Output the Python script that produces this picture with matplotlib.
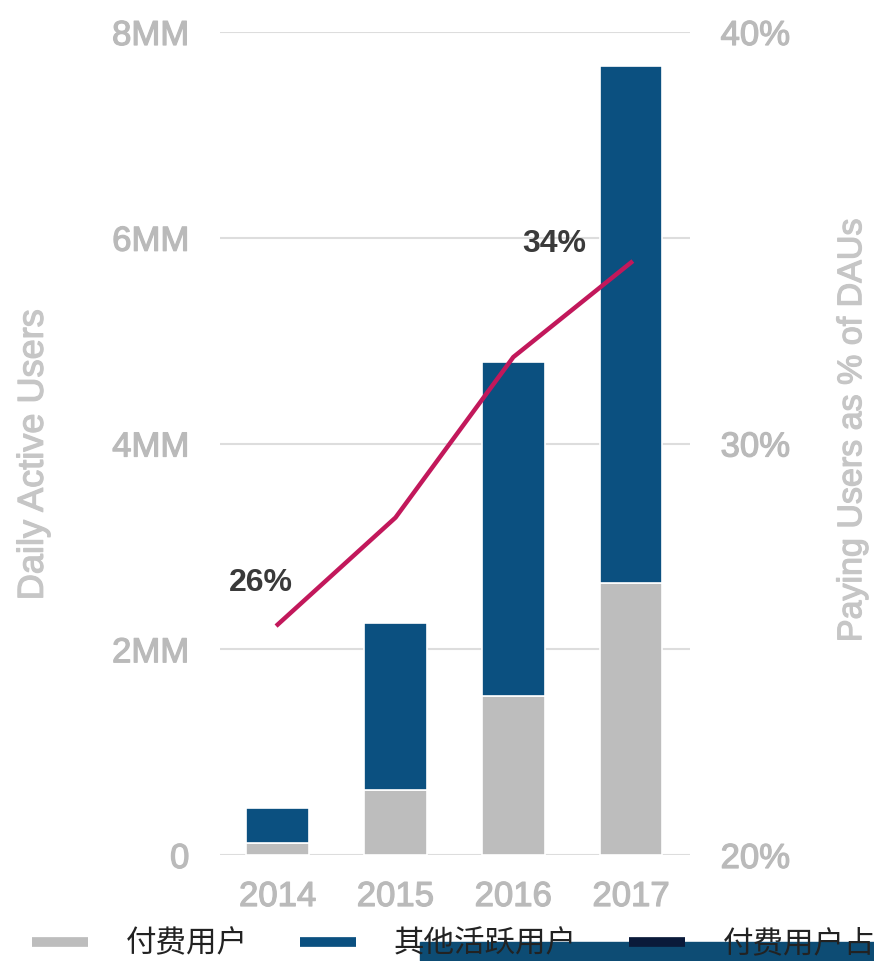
import matplotlib
matplotlib.use("Agg")
import matplotlib.pyplot as plt
import matplotlib.patheffects as pe
from matplotlib.lines import Line2D
from matplotlib.patches import Rectangle
import numpy as np

plt.rcParams["font.family"] = ["Liberation Sans", "Noto Sans CJK SC"]

# data
years = ["2014", "2015", "2016", "2017"]
paying_users = [0.12, 0.63, 1.55, 2.64]     # MM
total_dau = [0.46, 2.26, 4.79, 7.67]        # MM
paying_pct = [25.6, 28.2, 32.1, 34.4]       # %
left_ticks = [0, 2, 4, 6, 8]
left_labels = ["0", "2MM", "4MM", "6MM", "8MM"]
right_ticks = [20, 30, 40]
right_labels = ["20%", "30%", "40%"]
legend_labels = ["付费用户", "其他活跃用户", "付费用户占比"]

GRAY = "#bdbdbd"
BLUE = "#0b5080"
RED = "#c2185b"
TICK = "#bababa"
LABEL = "#c6c6c6"

other_users = [t - p for t, p in zip(total_dau, paying_users)]
x = np.arange(len(years))

# slightly heavier than regular, like the source font
thick = [pe.withStroke(linewidth=0.9, foreground=TICK)]
thick_lab = [pe.withStroke(linewidth=0.9, foreground=LABEL)]

fig = plt.figure(figsize=(8.74, 9.61), dpi=100)
ax = fig.add_axes([0.2517, 0.1103, 0.5378, 0.8564])

ax.bar(x, paying_users, width=0.53, color=GRAY, edgecolor="white", linewidth=1.2, zorder=3)
ax.bar(x, other_users, bottom=paying_users, width=0.53, color=BLUE,
       edgecolor="white", linewidth=1.2, zorder=3)

ax.set_xlim(-0.49, 3.5)
ax.set_ylim(0, 8)
ax.set_yticks(left_ticks)
ax.set_yticklabels(left_labels)
ax.set_xticks(x)
ax.set_xticklabels(years)
ax.grid(axis="y", color="#dddddd", linewidth=1.5, zorder=0)
ax.tick_params(axis="y", length=0, pad=22, labelsize=25, labelcolor=TICK)
ax.tick_params(axis="x", length=0, pad=18, labelsize=25, labelcolor=TICK)
for s in ax.spines.values():
    s.set_visible(False)
ax.set_ylabel("Daily Active Users", fontsize=26, color=LABEL, path_effects=thick_lab)
ax.yaxis.set_label_coords(-0.36, 0.486)

ax2 = ax.twinx()
ax2.plot(x, paying_pct, color=RED, linewidth=3.2, zorder=4)
ax2.set_ylim(20, 40)
ax2.set_yticks(right_ticks)
ax2.set_yticklabels(right_labels)
ax2.tick_params(axis="y", length=0, pad=22, labelsize=25, labelcolor=TICK)
for s in ax2.spines.values():
    s.set_visible(False)
ax2.set_ylabel("Paying Users as % of DAUs", fontsize=24.5, color=LABEL,
               path_effects=thick_lab)
ax2.yaxis.set_label_coords(1.313, 0.516)

for lab in ax.get_xticklabels() + ax.get_yticklabels() + ax2.get_yticklabels():
    lab.set_path_effects(thick)

ax2.text(-0.14, 26.6, "26%", ha="center", va="center", fontsize=23,
         fontweight="bold", color="#3a3a3a")
ax2.text(2.35, 34.85, "34%", ha="center", va="center", fontsize=23,
         fontweight="bold", color="#3a3a3a")

# strip of the next picture showing under the legend
fig.patches.append(Rectangle((0.48, 0.0), 0.52, 0.02, transform=fig.transFigure,
                             color="#0d4c74", zorder=1))

handles = [Line2D([], [], color=GRAY, linewidth=7, solid_capstyle="butt"),
           Line2D([], [], color=BLUE, linewidth=7, solid_capstyle="butt"),
           Line2D([], [], color="#0a1a3a", linewidth=7, solid_capstyle="butt")]
fig.legend(handles, legend_labels, loc="lower left", bbox_to_anchor=(0.005, -0.027),
           ncol=3, frameon=False, fontsize=22, handlelength=1.83, handletextpad=1.25,
           columnspacing=1.7, labelcolor="#222222")

fig.savefig("out.png", dpi=100)
